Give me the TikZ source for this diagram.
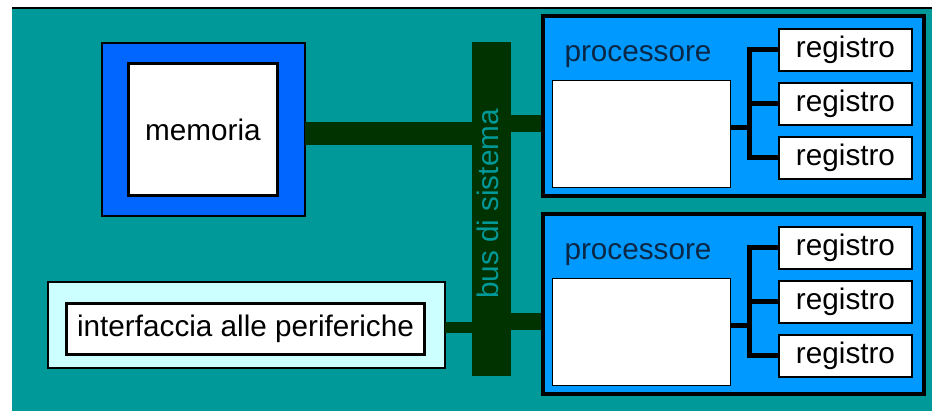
\documentclass[tikz,border=0pt]{standalone}
\usepackage{fontspec}
\setmainfont{Liberation Sans}
\definecolor{sfondo}{RGB}{0,153,153}
\definecolor{blumem}{RGB}{0,102,255}
\definecolor{bluproc}{RGB}{0,153,255}
\definecolor{azzurro}{RGB}{204,255,255}
\definecolor{verdebus}{RGB}{0,51,0}
\definecolor{scritta}{RGB}{10,40,70}
\begin{document}
\begin{tikzpicture}[x=1pt,y=-1pt,
        box/.style={draw,rectangle,inner sep=0pt,outer sep=0pt},
        reg/.style={box,fill=white,line width=2.5pt,
              minimum width=133pt,minimum height=42pt},
        tree/.style={line width=5pt},
        link/.style={draw=verdebus,line width=#1},
        font=\fontsize{29.7pt}{34pt}\selectfont]
        \useasboundingbox (0,0) rectangle (932,411);
        \fill[sfondo] (12,7) rectangle (932,411);
        \draw[line width=2pt] (12,8) -- (932,8);
        \node[box,fill=blumem,line width=1.5pt,minimum width=203pt,
              minimum height=173pt] (mem) at (203.5,129.5) {};
        \node[box,fill=white,line width=3pt,minimum width=149pt,
              minimum height=132pt] (memw) at (203,129.5) {memoria};
        \node[box,fill=azzurro,line width=1.5pt,minimum width=397pt,
              minimum height=86pt] (intf) at (246.5,325) {};
        \node[box,fill=white,line width=2.5pt,minimum width=358pt,
              minimum height=51pt] (intfw) at (245.5,329) {interfaccia alle periferiche};
        \node[box,fill=verdebus,draw=none,minimum width=39pt,
              minimum height=334pt] (bus) at (491.5,209) {};
        \node[rotate=90,text=sfondo,inner sep=0pt] (buslbl)
              at ([xshift=-4pt,yshift=5pt]bus.center) {bus di sistema};
        \foreach \p/\cy in {1/106, 2/304}{
            \node[box,fill=bluproc,line width=4pt,minimum width=381pt,
                  minimum height=180pt] (p\p) at (733.5,\cy) {};
            \node[text=scritta,inner sep=0pt] (t\p)
                  at ([shift={(-95.5,-49)}]p\p.center) {processore};
            \node[box,fill=white,line width=1.5pt,minimum width=178pt,
                  minimum height=107pt] (w\p) at ([shift={(-92,28)}]p\p.center) {};
            \foreach \r [evaluate = \r as \dy using {-110 + 54*\r}] in {1,2,3}{
                \node[reg] (r\p-\r) at ([shift={(112,\dy)}]p\p.center) {registro};
            };
            \draw[tree] ([yshift=6pt]w\p.east) -- ++(19,0) coordinate (j\p);
            \draw[tree] (r\p-1.west) -| (j\p) |- (r\p-3.west);
            \draw[tree] (j\p |- r\p-2.west) -- (r\p-2.west);
        };
        \draw[link=23pt] ([yshift=-4pt]mem.east) -- ([yshift=-4pt]mem.east -| bus.west);
        \draw[link=17pt] ([yshift=-17.5pt,xshift=-2pt]p1.west) -- ([yshift=-17.5pt]p1.west -| bus.east);
        \draw[link=17pt] ([yshift=-17.5pt,xshift=-2pt]p2.west) -- ([yshift=-17.5pt]p2.west -| bus.east);
        \draw[link=11pt] ([yshift=-2.5pt]intf.east) -- ([yshift=-2.5pt]intf.east -| bus.west);
    \end{tikzpicture}
\end{document}
